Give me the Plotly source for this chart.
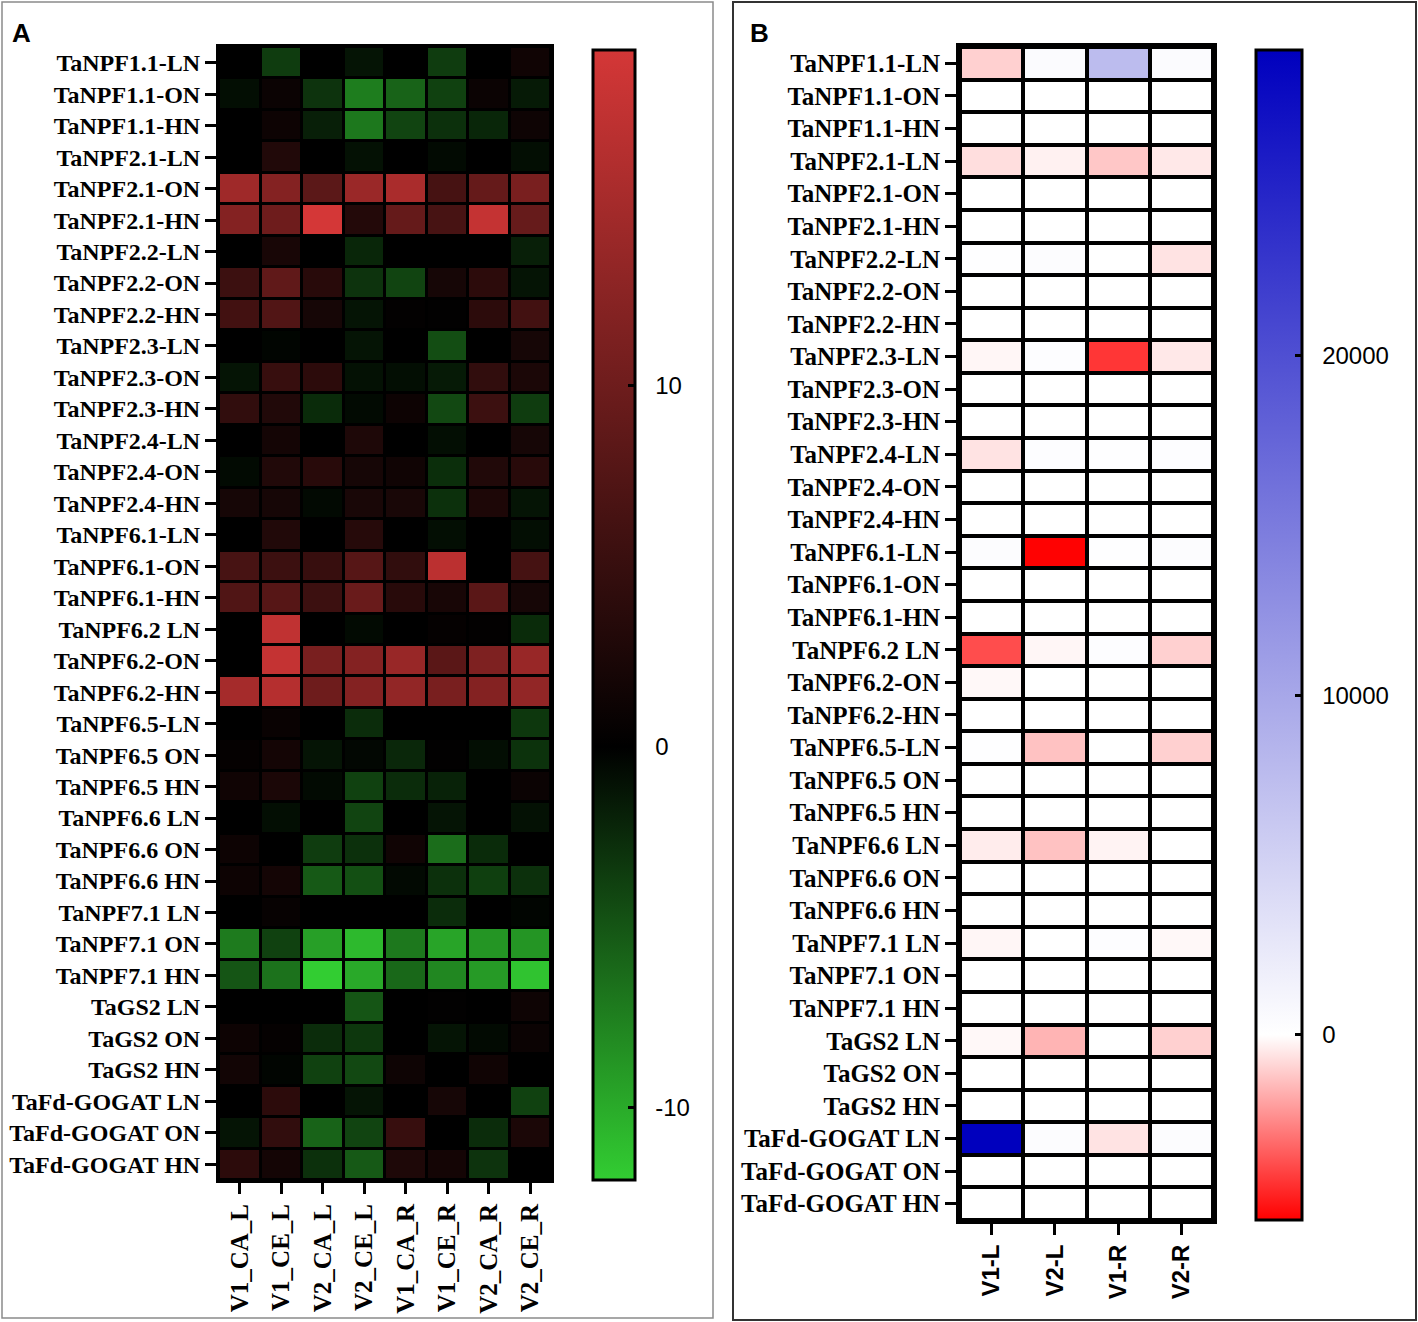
import plotly.graph_objects as go

# Row labels shared by both panels (top to bottom)
genes = [
    "TaNPF1.1-LN", "TaNPF1.1-ON", "TaNPF1.1-HN",
    "TaNPF2.1-LN", "TaNPF2.1-ON", "TaNPF2.1-HN",
    "TaNPF2.2-LN", "TaNPF2.2-ON", "TaNPF2.2-HN",
    "TaNPF2.3-LN", "TaNPF2.3-ON", "TaNPF2.3-HN",
    "TaNPF2.4-LN", "TaNPF2.4-ON", "TaNPF2.4-HN",
    "TaNPF6.1-LN", "TaNPF6.1-ON", "TaNPF6.1-HN",
    "TaNPF6.2 LN", "TaNPF6.2-ON", "TaNPF6.2-HN",
    "TaNPF6.5-LN", "TaNPF6.5 ON", "TaNPF6.5 HN",
    "TaNPF6.6 LN", "TaNPF6.6 ON", "TaNPF6.6 HN",
    "TaNPF7.1 LN", "TaNPF7.1 ON", "TaNPF7.1 HN",
    "TaGS2 LN", "TaGS2 ON", "TaGS2 HN",
    "TaFd-GOGAT LN", "TaFd-GOGAT ON", "TaFd-GOGAT HN",
]

# Panel A: log fold changes, 8 samples
samples_a = ["V1_CA_L", "V1_CE_L", "V2_CA_L", "V2_CE_L",
             "V1_CA_R", "V1_CE_R", "V2_CA_R", "V2_CE_R"]
values_a = [
    [0.0, -3.5, 0.0, -1.2, 0.0, -3.5, 0.0, 1.5],
    [-0.8, 1.0, -3.0, -7.3, -5.8, -3.8, 1.0, -1.5],
    [0.0, 1.2, -1.8, -7.0, -4.0, -2.8, -2.2, 1.3],
    [0.0, 3.0, 0.0, -1.0, 0.0, -0.6, 0.0, -0.8],
    [14.5, 12.0, 8.3, 14.0, 15.5, 6.4, 9.2, 11.0],
    [12.0, 10.0, 19.5, 3.2, 9.2, 6.5, 17.8, 9.3],
    [0.0, 2.2, 0.0, -2.2, 0.0, 0.0, 0.0, -1.8],
    [5.5, 8.7, 3.6, -3.0, -4.0, 2.0, 4.0, -1.2],
    [6.0, 7.4, 2.0, -1.2, 0.3, 0.2, 4.0, 6.0],
    [0.0, -0.3, 0.0, -1.2, 0.0, -4.5, 0.0, 2.0],
    [-1.2, 5.0, 4.0, -1.0, -0.8, -1.5, 4.5, 2.5],
    [4.5, 3.0, -2.5, -0.6, 1.2, -4.2, 5.5, -3.5],
    [0.0, 1.8, 0.0, 2.7, 0.0, -0.8, 0.0, 2.0],
    [-0.6, 3.0, 3.6, 2.0, 1.5, -2.7, 3.0, 3.6],
    [2.0, 2.0, -0.5, 2.3, 2.3, -2.8, 2.6, -1.2],
    [0.0, 3.0, 0.0, 3.5, 0.0, -0.8, 0.0, -0.8],
    [6.5, 5.5, 5.0, 7.8, 4.5, 17.0, 0.0, 6.3],
    [7.3, 7.8, 5.5, 9.6, 3.6, 2.2, 8.2, 2.0],
    [0.0, 17.5, 0.0, -0.6, 0.0, 0.5, 0.3, -2.5],
    [0.0, 17.8, 11.0, 12.0, 13.8, 8.2, 11.5, 13.8],
    [15.0, 16.5, 10.0, 12.0, 13.3, 11.0, 12.0, 13.3],
    [0.0, 0.8, 0.0, -2.6, 0.0, 0.0, 0.0, -3.2],
    [0.5, 1.8, -1.2, -0.4, -2.3, 0.2, -0.8, -2.9],
    [1.5, 2.5, -0.6, -3.8, -2.6, -2.0, 0.0, 1.0],
    [0.0, -0.8, 0.0, -4.0, 0.0, -1.2, 0.0, -1.0],
    [1.2, 0.0, -3.5, -2.8, 1.5, -6.4, -2.5, 0.0],
    [1.2, 1.8, -5.2, -4.6, -0.5, -2.8, -3.7, -2.8],
    [0.0, 0.6, 0.0, 0.0, 0.0, -2.6, 0.0, -0.3],
    [-7.2, -3.8, -9.3, -10.8, -7.0, -9.6, -8.7, -8.7],
    [-5.0, -6.7, -12.0, -9.9, -6.1, -7.9, -9.0, -11.4],
    [0.0, 0.0, 0.0, -5.0, 0.0, 0.2, 0.0, 1.3],
    [1.2, 0.5, -2.6, -3.2, 0.0, -1.2, -0.6, 1.0],
    [1.6, -0.3, -3.8, -4.2, 1.3, 0.0, 1.5, 0.0],
    [0.0, 4.0, 0.0, -1.2, 0.0, 2.0, 0.0, -3.8],
    [-1.2, 4.5, -5.8, -4.0, 5.0, 0.0, -2.6, 2.5],
    [4.0, 1.8, -2.8, -5.2, 2.7, 1.8, -3.0, 0.0],
]
ticks_a = [-10, 0, 10]
ticktext_a = ["-10", "0", "10"]

# Panel B: 4 samples
samples_b = ["V1-L", "V2-L", "V1-R", "V2-R"]
values_b = [
    [-1000, 500, 7600, 400],
    [0, 0, 0, 0],
    [0, 0, 0, 0],
    [-700, -300, -1200, -500],
    [0, 0, 0, 0],
    [0, 0, 0, 0],
    [150, 300, 0, -600],
    [0, 0, 0, 0],
    [0, 0, 0, 0],
    [-200, 200, -4300, -500],
    [0, 0, 0, 0],
    [0, 0, 0, 0],
    [-600, 200, 100, 200],
    [0, 0, 0, 0],
    [0, 0, 0, 0],
    [300, -5400, 100, 350],
    [0, 0, 0, 0],
    [0, 0, 0, 0],
    [-3800, -200, 200, -1000],
    [-150, 0, 0, 0],
    [0, 0, 0, 0],
    [100, -1300, 0, -1000],
    [0, 0, 0, 0],
    [0, 0, 0, 0],
    [-400, -1300, -250, 0],
    [0, 0, 0, 0],
    [0, 0, 0, 0],
    [-200, 0, 200, -150],
    [0, 0, 0, 0],
    [0, 0, 0, 0],
    [-150, -1600, 0, -1000],
    [0, 0, 0, 0],
    [0, 0, 0, 0],
    [29000, 300, -600, 300],
    [0, 0, 0, 0],
    [0, 0, 0, 0],
]
ticks_b = [0, 10000, 20000]
ticktext_b = ["0", "10000", "20000"]

W, H = 1418, 1322


def px(x):
    return x / W


def py(y):
    # pixel row from top -> paper fraction from bottom
    return 1 - y / H


def pad(labels):
    # push colorbar labels away from the bar a little
    return ["\u00a0\u00a0" + t for t in labels]


zmin_a, zmax_a = -12, 19.3
zmin_b, zmax_b = -5450, 29000

serif_a = dict(family="Liberation Serif", size=24, color="black", weight="bold")
serif_b = dict(family="Liberation Serif", size=25, color="black", weight="bold")
sans = dict(family="Liberation Sans", size=24, color="black")

fig = go.Figure()

fig.add_trace(go.Heatmap(
    z=values_a, x=samples_a, y=genes,
    zmin=zmin_a, zmax=zmax_a,
    colorscale=[[0, "rgb(50,205,50)"],
                [-zmin_a / (zmax_a - zmin_a), "rgb(0,0,0)"],
                [1, "rgb(212,55,55)"]],
    xgap=3, ygap=3,
    xaxis="x", yaxis="y",
    colorbar=dict(
        x=px(593), xanchor="left", y=py(615), yanchor="middle",
        len=1130 / H, lenmode="fraction", thickness=42, thicknessmode="pixels",
        xpad=0, ypad=0, outlinewidth=3, outlinecolor="black",
        tickvals=ticks_a, ticktext=pad(ticktext_a),
        ticks="inside", ticklen=8, tickwidth=3,
        tickcolor="black", tickfont=sans,
    ),
))

fig.add_trace(go.Heatmap(
    z=values_b, x=samples_b, y=genes,
    zmin=zmin_b, zmax=zmax_b,
    colorscale=[[0, "rgb(255,0,0)"],
                [-zmin_b / (zmax_b - zmin_b), "rgb(255,255,255)"],
                [1, "rgb(0,0,190)"]],
    xgap=4, ygap=4,
    xaxis="x2", yaxis="y2",
    colorbar=dict(
        x=px(1256), xanchor="left", y=py(635), yanchor="middle",
        len=1170 / H, lenmode="fraction", thickness=46, thicknessmode="pixels",
        xpad=0, ypad=0, outlinewidth=3, outlinecolor="black",
        tickvals=ticks_b, ticktext=pad(ticktext_b),
        ticks="inside", ticklen=8, tickwidth=3,
        tickcolor="black", tickfont=sans,
    ),
))

axis_common = dict(showgrid=False, zeroline=False, showline=True, mirror=True,
                   linecolor="black", ticks="outside", ticklen=11, tickwidth=3,
                   tickcolor="black", fixedrange=True)

fig.update_layout(
    width=W, height=H,
    margin=dict(l=0, r=0, t=0, b=0),
    paper_bgcolor="white",
    plot_bgcolor="black",
    xaxis=dict(domain=[px(219), px(551)], anchor="y", tickangle=-90,
               tickfont=dict(serif_a, size=25), linewidth=3, **axis_common),
    yaxis=dict(domain=[py(1180), py(47)], anchor="x", autorange="reversed",
               tickfont=serif_a, linewidth=3, **axis_common),
    xaxis2=dict(domain=[px(960), px(1213)], anchor="y2", tickangle=-90,
                tickfont=dict(family="Liberation Sans", size=24, color="black",
                              weight="bold"),
                linewidth=4, **axis_common),
    yaxis2=dict(domain=[py(1220), py(47)], anchor="x2", autorange="reversed",
                tickfont=serif_b, linewidth=4, **axis_common),
    shapes=[
        dict(type="rect", xref="paper", yref="paper",
             x0=px(2), x1=px(713), y0=py(1318), y1=py(2),
             line=dict(color="#8a8a8a", width=1.5), layer="below"),
        dict(type="rect", xref="paper", yref="paper",
             x0=px(733), x1=px(1416), y0=py(1320), y1=py(2),
             line=dict(color="#333333", width=2), layer="below"),
    ],
    annotations=[
        dict(text="A", x=px(10), y=py(16), xref="paper", yref="paper",
             xanchor="left", yanchor="top", showarrow=False,
             font=dict(family="Liberation Sans", size=26, color="black", weight="bold")),
        dict(text="B", x=px(748), y=py(16), xref="paper", yref="paper",
             xanchor="left", yanchor="top", showarrow=False,
             font=dict(family="Liberation Sans", size=26, color="black", weight="bold")),
    ],
)

# the page's default 8px body margin would push the figure off its frame
fig.write_html("out.html", config={"displayModeBar": False},
               post_script="document.body.style.margin='0px';")
